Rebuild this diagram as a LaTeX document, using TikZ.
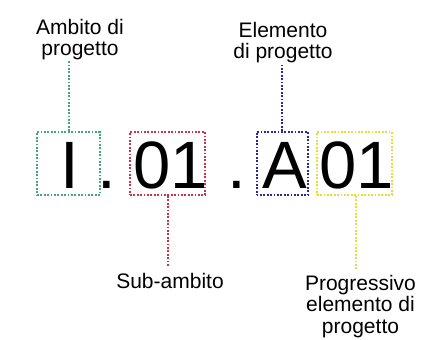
\documentclass[tikz,border=0pt]{standalone}
\usepackage{fontspec}
\setmainfont{Liberation Sans}
\definecolor{cgreen}{RGB}{70,165,125}
\definecolor{cred}{RGB}{200,50,75}
\definecolor{cblue}{RGB}{40,40,150}
\definecolor{cyellow}{RGB}{225,225,50}
\tikzset{
  dotline/.style={line width=2pt, dash pattern=on 1.8pt off 1.6pt},
  codebox/.style={draw, dotline, rectangle, inner sep=0pt},
  glyph/.style={inner sep=0pt, font=\fontsize{67}{80}\selectfont},
  lbl/.style={inner sep=0pt, align=center, anchor=north, font=\fontsize{21}{21.5}\selectfont},
}
\begin{document}
\begin{tikzpicture}[x=1pt,y=-1pt]
\useasboundingbox[fill=white] (0,0) rectangle (421,340);
% boxes
\node[codebox, cgreen, minimum width=63pt, minimum height=63pt] (g) at (68.5,163.5) {};
\node[codebox, cred, minimum width=75pt, minimum height=63pt] (r) at (167.5,163.5) {};
\node[codebox, cblue, minimum width=51.3pt, minimum height=63pt] (b) at (282.3,163.5) {};
\node[codebox, cyellow, minimum width=75pt, minimum height=63pt] (y) at (354.2,163.5) {};
% glyphs
\node[glyph, anchor=base] (gI) at (69.5,188) {I};
\node[glyph, anchor=base] (d1) at (106.7,188) {.};
\node[glyph, anchor=base west] (r01) at (133.2,188) {01};
\node[glyph, anchor=base] (d2) at (237,188) {.};
\node[glyph, anchor=base] (bA) at (285,188) {A};
\node[glyph, anchor=base west] (y01) at (318.9,188) {01};
% labels
\node[lbl] (gl) at (80,19) {Ambito di\\progetto};
\node[lbl] (bl) at (283,22) {Elemento\\di progetto};
\node[lbl] (rl) at (170,273) {Sub-ambito};
\node[lbl] (yl) at (360.5,275) {Progressivo\\elemento di\\progetto};
% connectors
\draw[dotline, cgreen] (g.north) -- (g.north |- gl.south);
\draw[dotline, cblue] (b.north) -- (b.north |- bl.south);
\draw[dotline, cred] (r.south) -- ([yshift=6pt]r.south |- rl.north);
\draw[dotline, cyellow] ([xshift=1.5pt]y.south) -- ([xshift=1.5pt,yshift=5pt]y.south |- yl.north);
\end{tikzpicture}
\end{document}
